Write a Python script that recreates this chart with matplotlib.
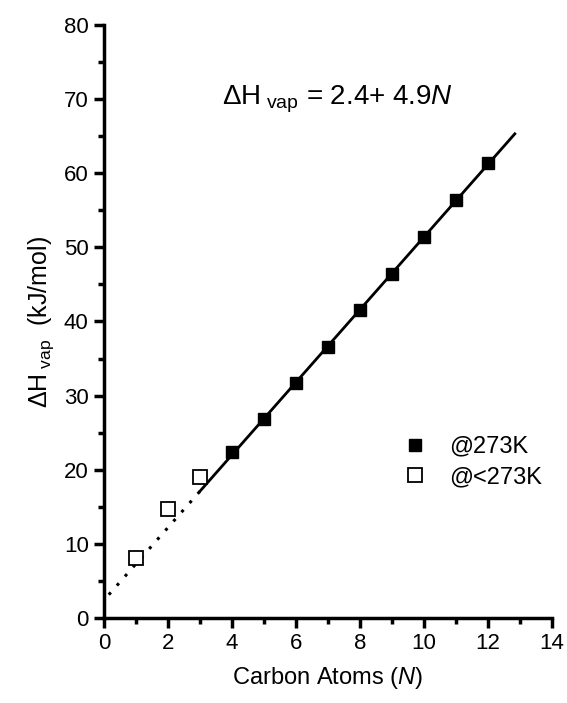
import numpy as np
import matplotlib
matplotlib.use('Agg')
import matplotlib.pyplot as plt

plt.rcParams['font.family'] = ['Liberation Sans', 'DejaVu Sans']
plt.rcParams['mathtext.fontset'] = 'custom'
plt.rcParams['mathtext.rm'] = 'Liberation Sans'
plt.rcParams['mathtext.it'] = 'Liberation Sans:italic'

# data
n_273 = [4, 5, 6, 7, 8, 9, 10, 11, 12]
dh_273 = [22.4, 26.8, 31.7, 36.6, 41.5, 46.4, 51.4, 56.4, 61.4]
n_low = [1, 2, 3]
dh_low = [8.1, 14.7, 19.0]
fit_a, fit_b = 2.4, 4.9
fit_solid = [3.0, 12.84]
fit_dotted = [0.15, 3.0]

fig = plt.figure(figsize=(5.67, 7.03), dpi=100)
ax = fig.add_axes([0.1834, 0.121, 0.79, 0.8434])

xs = np.array(fit_solid)
ax.plot(xs, fit_a + fit_b * xs, color='black', lw=2)
xd = np.array(fit_dotted)
ax.plot(xd, fit_a + fit_b * xd, color='black', lw=2.2, ls=(0, (1, 3)))

ax.plot(n_273, dh_273, 's', color='black', ms=9, label='@273K', zorder=3)
ax.plot(n_low, dh_low, 's', mfc='white', mec='black', mew=1.3, ms=10,
        label='@<273K', zorder=3)

ax.set_xlim(0, 14)
ax.set_ylim(0, 80)
ax.set_xticks(range(0, 15, 2))
ax.set_xticks(range(1, 15, 2), minor=True)
ax.set_yticks(range(0, 81, 10))
ax.set_yticks(range(5, 80, 10), minor=True)

for s in ['top', 'right']:
    ax.spines[s].set_visible(False)
for s in ['left', 'bottom']:
    ax.spines[s].set_linewidth(2.5)
ax.tick_params(which='major', direction='out', length=7, width=2.5,
               labelsize=16, pad=4)
ax.tick_params(which='minor', direction='out', length=4, width=2.5)

ax.set_xlabel('Carbon Atoms ($N$)', fontsize=17, labelpad=8)
ax.set_ylabel(r'$\Delta$H$_{\rm\ vap}$  (kJ/mol)', fontsize=18, labelpad=6)

ax.text(3.68, 70, r'$\Delta$H$_{\rm\ vap}$ = 2.4+ 4.9$N$', fontsize=20,
        ha='left', va='center')

ax.legend(loc='center left', bbox_to_anchor=(0.595, 0.263), frameon=False,
          fontsize=17, handletextpad=0.45, labelspacing=0.35, numpoints=1)

fig.savefig('out.png', dpi=100)
